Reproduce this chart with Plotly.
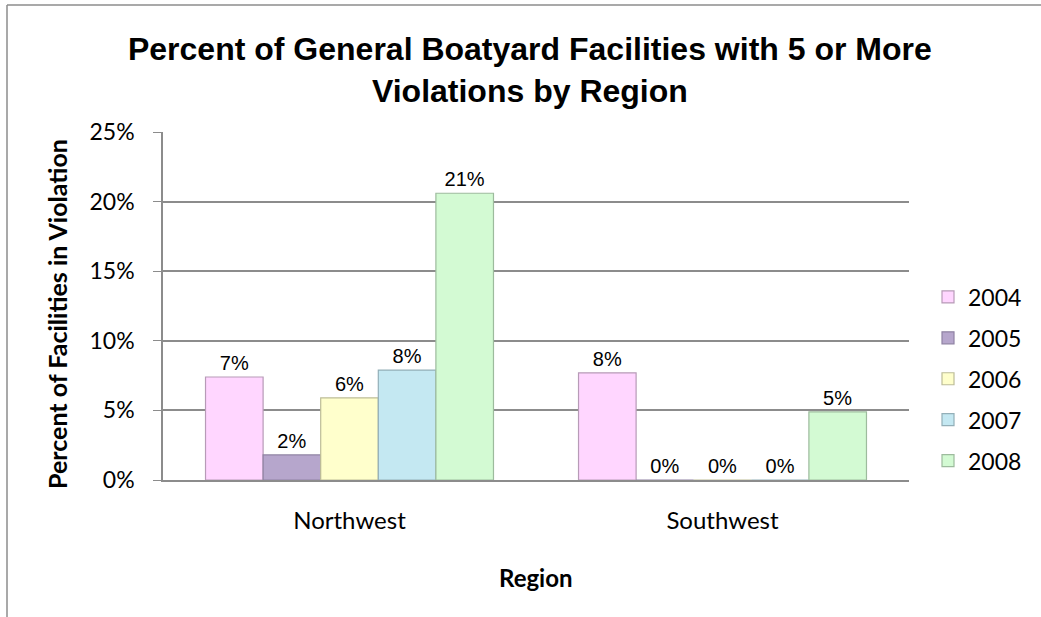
import plotly.graph_objects as go

regions = ["Northwest", "Southwest"]
years = ["2004", "2005", "2006", "2007", "2008"]
values = {
    "2004": [0.074, 0.077],
    "2005": [0.018, 0.0],
    "2006": [0.059, 0.0],
    "2007": [0.079, 0.0],
    "2008": [0.206, 0.049],
}
colors = {
    "2004": "#FFD6FF",
    "2005": "#B6A6CC",
    "2006": "#FFFFCC",
    "2007": "#C4E8F2",
    "2008": "#D3FAD3",
}
line_colors = {
    "2004": "#B79BB7",
    "2005": "#8F82A3",
    "2006": "#BDBD98",
    "2007": "#93AFB8",
    "2008": "#9DBB9D",
}
y_ticks = [0, 0.05, 0.10, 0.15, 0.20, 0.25]
y_tick_labels = ["0%", "5%", "10%", "15%", "20%", "25%"]

W, H = 1041, 617
ML, MR, MT, MB = 163, 132, 132, 137
PW, PH = W - ML - MR, H - MT - MB

SANS = "Lato, Carlito, Calibri"
ARIAL = "Liberation Sans, Arial"


def px_x(x):
    return (x - ML) / PW


def px_y(y):
    return (H - MB - y) / PH


fig = go.Figure()
for i, yr in enumerate(years):
    fig.add_trace(go.Bar(
        x=regions,
        y=values[yr],
        name=yr,
        legendgroup=yr,
        marker=dict(color=colors[yr], line=dict(color=line_colors[yr], width=1.2)),
        text=[f"{round(v * 100):.0f}%" for v in values[yr]],
        textposition="outside",
        textfont=dict(family=ARIAL, size=20, color="#000000"),
        cliponaxis=False,
    ))

fig.update_layout(
    width=W, height=H,
    margin=dict(l=ML, r=MR, t=MT, b=MB, autoexpand=False),
    paper_bgcolor="white",
    plot_bgcolor="white",
    barmode="group",
    bargap=0.228,
    bargroupgap=0,
    title=dict(
        text="<b>Percent of General Boatyard Facilities with 5 or More<br>Violations by Region</b>",
        font=dict(family=ARIAL, size=32, color="#000000"),
        x=0.509, xanchor="center", y=1 - 60 / H, yanchor="middle",
    ),
    legend=dict(
        x=px_x(928), xanchor="left", y=px_y(379), yanchor="middle",
        font=dict(family=SANS, size=23, color="#000000"),
        tracegroupgap=8,
        bgcolor="rgba(0,0,0,0)",
    ),
    xaxis=dict(
        showline=True, linecolor="#8C8C8C", linewidth=2,
        ticks="", showgrid=False,
        tickfont=dict(family=SANS, size=24, color="#000000"),
        ticklabelstandoff=18,
    ),
    yaxis=dict(
        range=[0, 0.25],
        tickvals=y_ticks, ticktext=y_tick_labels,
        showline=True, linecolor="#8C8C8C", linewidth=1.5,
        ticks="outside", ticklen=8, tickcolor="#8C8C8C",
        showgrid=True, gridcolor="#8C8C8C", gridwidth=1.5,
        zeroline=False,
        tickfont=dict(family=SANS, size=23, color="#000000"),
        ticklabelstandoff=14,
    ),
    annotations=[
        dict(text="<b>Percent of Facilities in Violation</b>", textangle=-90,
             x=px_x(57), y=px_y(314), xref="paper", yref="paper",
             xanchor="center", yanchor="middle", showarrow=False,
             font=dict(family=SANS, size=25, color="#000000")),
        dict(text="<b>Region</b>",
             x=px_x(536), y=px_y(577), xref="paper", yref="paper",
             xanchor="center", yanchor="middle", showarrow=False,
             font=dict(family=SANS, size=24, color="#000000")),
    ],
    shapes=[
        dict(type="line", xref="paper", yref="paper",
             x0=px_x(7), x1=px_x(7), y0=px_y(5), y1=px_y(617),
             line=dict(color="#8C8C8C", width=1.5)),
        dict(type="line", xref="paper", yref="paper",
             x0=px_x(7), x1=px_x(1041), y0=px_y(5), y1=px_y(5),
             line=dict(color="#8C8C8C", width=1.5)),
    ],
)

fig.write_html("out.html", config={"displayModeBar": False},
               post_script="document.body.style.margin='0';")
